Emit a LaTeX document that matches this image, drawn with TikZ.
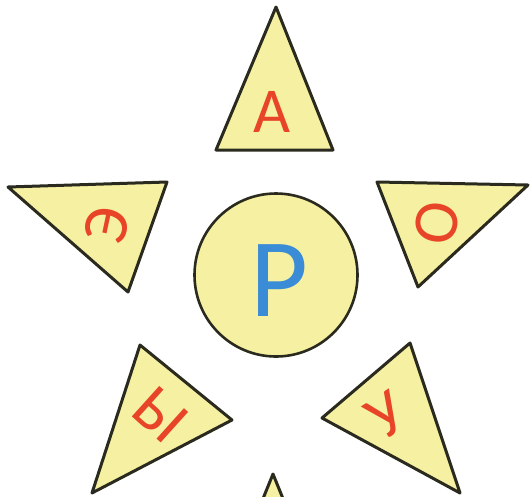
\documentclass[tikz,border=0pt]{standalone}
\usepackage{fontspec}
\setmainfont{Carlito}
\usepackage{xcolor}
\usetikzlibrary{positioning}

\definecolor{pale}{HTML}{F6F1A2}
\definecolor{edge}{HTML}{2A2A1E}
\definecolor{letred}{HTML}{E84428}
\definecolor{letblue}{HTML}{3A8CD6}

\begin{document}
\begin{tikzpicture}[
  x=1pt, y=-1pt,
  tri/.style={draw=edge, fill=pale, line width=3pt, line join=round},
  ring/.style={draw=edge, fill=pale, line width=2.6pt, circle, minimum size=163pt, inner sep=0pt},
  lett/.style={text=letred, font=\fontsize{64}{64}\selectfont, inner sep=0pt},
  mid/.style={text=letblue, font=\fontsize{112}{112}\selectfont, inner sep=0pt},
]
\clip (0,0) rectangle (532,496);

% triangles
\draw[tri] (276,7) -- (333,150) -- (216,150) -- cycle;
\draw[tri] (8,187) -- (167,182) -- (128,292) -- cycle;
\draw[tri] (377,182) -- (528,185) -- (418,287) -- cycle;
\draw[tri] (140,345) -- (232,420) -- (92,493) -- cycle;
\draw[tri] (410,343) -- (460,493) -- (322,418) -- cycle;
\draw[tri] (273,474) -- (331,617) -- (215,617) -- cycle;

% centre
\node[ring] (ctr) at (276,275) {};
\node[mid] (r) at (279,281) {Р};

% letters
\node[lett] (a) at (272,112) {А};
\node[lett, rotate=78] (e) at (107,225) {Э};
\node[lett, rotate=80] (o) at (437,223) {О};
\node[lett, rotate=-42] (y) at (160,415) {Ы};
\node[lett, rotate=33] (u) at (387,415) {У};
\end{tikzpicture}
\end{document}
